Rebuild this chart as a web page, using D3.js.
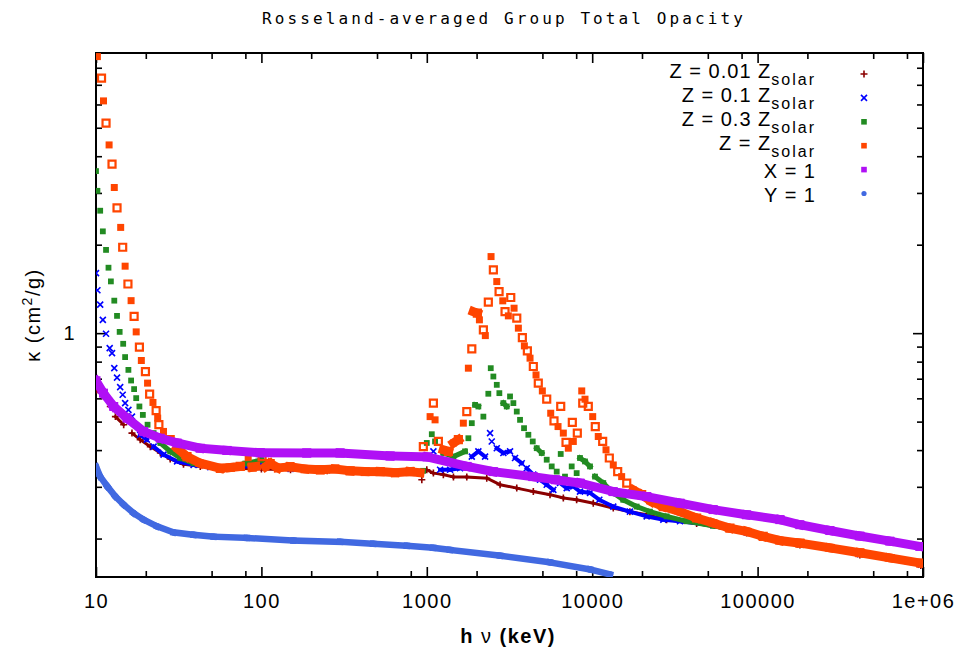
<!doctype html>
<html>
  <head>
    <script src="https://d3js.org/d3.v7.min.js"></script>
    <style>
      body { margin: 0; background: #fff; }
      text { font-family: "Liberation Sans", Arial, sans-serif; fill: #000; }
      .title { font-family: "DejaVu Sans Mono", monospace; font-size: 16px; letter-spacing: 3.1px; }
      .tick text { font-size: 20px; letter-spacing: 1.5px; }
      .tick line { stroke: #000; stroke-width: 1.6px; }
      .axislabel { font-size: 20px; letter-spacing: 1.5px; }
      .legend text { font-size: 20px; letter-spacing: 1px; }
    </style>
  </head>
  <body>
    <div id="chart">
      <script>
        // ---- data: [energy keV, kappa cm^2/g] ----
        var z001 = [[10.1,0.641],[11.1,0.609],[12.2,0.563],[13.1,0.520],[14.7,0.488],[16.5,0.457],[18.5,0.434],[21.3,0.411],
          [24.5,0.391],[28.1,0.373],[33.8,0.358],[42.7,0.352],[61.9,0.347],[100,0.345],[150,0.343],[250,0.340],[400,0.338],
          [600,0.336],[900,0.333],[933,0.317],[1000,0.343],[1096,0.334],[1259,0.330],[1449,0.324],[1745,0.324],[2304,0.321],
          [2773,0.305],[3499,0.297],[4406,0.289],[5559,0.282],[6690,0.275],[8054,0.271],[10150,0.264],[13410,0.254],
          [16900,0.247],[21340,0.241],[28180,0.232],[42800,0.225],[85800,0.209],[180200,0.190],[415000,0.176],[970000,0.162]];

        var z01 = [[10.0,1.60],[10.2,1.40],[10.6,1.25],[11.0,1.11],[11.5,0.995],[12.1,0.889],[12.5,0.855],[12.9,0.760],
          [13.4,0.706],[14.0,0.655],[14.5,0.617],[15.0,0.578],[15.7,0.548],[16.5,0.520],[18.5,0.451],[20.3,0.434],
          [22.3,0.411],[25.6,0.386],[30.9,0.366],[38.9,0.356],[49.1,0.350],[70,0.350],[100,0.355],[150,0.345],[250,0.342],
          [400,0.340],[600,0.338],[900,0.337],[1096,0.396],[1203,0.343],[1383,0.343],[1589,0.347],[1745,0.352],[1871,0.380],
          [2050,0.396],[2251,0.380],[2413,0.457],[2470,0.428],[2649,0.406],[2903,0.391],[3186,0.396],[3416,0.376],
          [3750,0.361],[4020,0.347],[4406,0.330],[4837,0.317],[5309,0.305],[5821,0.293],[6388,0.309],[7015,0.297],
          [7688,0.301],[8438,0.289],[9699,0.286],[11040,0.271],[13410,0.257],[16900,0.247],[21340,0.238],[26900,0.232],
          [33930,0.229],[53920,0.222],[85800,0.210],[180200,0.191],[415000,0.177],[970000,0.163]];

        var z03 = [[10.0,3.56],[10.2,3.05],[10.6,2.61],[11.0,2.22],[11.5,1.92],[11.9,1.67],[12.3,1.50],[12.9,1.29],
          [13.4,1.145],[13.9,1.01],[14.6,0.920],[15.0,0.829],[15.7,0.750],[16.3,0.690],[17.0,0.645],[17.5,0.601],
          [18.3,0.563],[19.2,0.527],[20.5,0.488],[22.3,0.457],[24.5,0.423],[28.1,0.396],[32.3,0.376],[38.9,0.361],
          [49.1,0.352],[60,0.348],[80,0.360],[100,0.370],[130,0.350],[200,0.345],[300,0.342],[500,0.338],[800,0.336],
          [950,0.340],[1000,0.423],[1072,0.453],[1122,0.428],[1259,0.391],[1449,0.380],[1703,0.396],[1784,0.439],
          [1871,0.494],[1958,0.570],[2050,0.563],[2198,0.520],[2355,0.622],[2436,0.760],[2526,0.712],[2649,0.667],
          [2746,0.625],[2903,0.578],[3043,0.563],[3186,0.609],[3337,0.578],[3499,0.541],[3662,0.507],[3872,0.475],
          [4112,0.451],[4371,0.428],[4620,0.406],[4954,0.391],[5309,0.371],[5691,0.352],[6101,0.338],[6452,0.388],
          [6847,0.325],[7517,0.352],[8054,0.334],[8438,0.376],[9047,0.366],[9699,0.352],[10400,0.325],[11670,0.309],
          [13410,0.286],[15410,0.271],[18580,0.257],[22340,0.247],[28180,0.238],[37240,0.229],[53920,0.221],
          [85800,0.211],[180200,0.192],[415000,0.178],[970000,0.164]];

        var zsol = [[10.2,8.73],[10.8,7.37],[11.1,6.17],[11.5,5.18],[12.0,4.37],[12.5,3.76],[12.9,3.13],[13.4,2.67],
          [14.1,2.29],[14.5,1.96],[15.0,1.69],[15.6,1.47],[16.3,1.29],[17.0,1.14],[17.5,1.01],[18.3,0.896],[18.8,0.807],
          [19.9,0.740],[20.5,0.676],[21.1,0.620],[22.1,0.581],[23.1,0.545],[23.6,0.514],[24.0,0.488],[25.6,0.463],
          [28.1,0.434],[30.9,0.406],[35.5,0.380],[42.7,0.361],[56.4,0.347],[64.8,0.349],[74.5,0.352],[83.2,0.377],
          [88.0,0.350],[93.0,0.352],[101,0.380],[106,0.351],[113,0.360],[126,0.348],[149,0.351],[184,0.345],[227,0.343],
          [279,0.345],[344,0.340],[424,0.338],[522,0.338],[643,0.335],[793,0.338],[910,0.335],[953,0.411],[1047,0.520],
          [1096,0.578],[1122,0.507],[1175,0.428],[1259,0.401],[1352,0.396],[1449,0.423],[1552,0.434],[1663,0.494],
          [1745,0.541],[1784,0.760],[1871,0.884],[1912,1.184],[2022,1.170],[2080,1.110],[2198,1.026],[2259,0.981],
          [2355,1.275],[2446,1.822],[2526,1.642],[2649,1.498],[2735,1.385],[2879,1.288],[2972,1.184],[3112,1.145],
          [3218,1.322],[3370,1.216],[3499,1.125],[3578,1.040],[3782,0.966],[3890,0.905],[4055,0.871],[4209,0.822],
          [4406,0.770],[4575,0.721],[4721,0.676],[4995,0.636],[5309,0.596],[5612,0.534],[5875,0.503],[6215,0.481],
          [6452,0.563],[6690,0.457],[6946,0.425],[7172,0.406],[7582,0.497],[7688,0.428],[8128,0.457],[8645,0.636],
          [8766,0.578],[9047,0.596],[9472,0.563],[10070,0.520],[10440,0.481],[10880,0.445],[11570,0.428],[12120,0.401],
          [12690,0.376],[13410,0.356],[14260,0.338],[15070,0.325],[16170,0.309],[17700,0.293],[19910,0.282],
          [22880,0.267],[26900,0.257],[33930,0.247],[42800,0.235],[53920,0.226],[68020,0.217],[85800,0.2115],
          [108100,0.2034],[136400,0.197],[180200,0.193],[273500,0.186],[415000,0.179],[629500,0.172],[970000,0.165]];

        var x1 = [[10.0,0.689],[11.1,0.625],[12.8,0.563],[15.4,0.514],[19.4,0.463],[24.5,0.439],[30.9,0.423],[42.7,0.406],
          [61.9,0.399],[98.3,0.392],[188,0.391],[299,0.391],[600,0.382],[1004,0.379],[1752,0.352],[2526,0.338],
          [4387,0.325],[6000,0.317],[8433,0.309],[13410,0.289],[21340,0.278],[33930,0.264],[53920,0.251],[85800,0.241],
          [136400,0.232],[180200,0.223],[273500,0.213],[415000,0.204],[629500,0.196],[957000,0.188]];

        var y1 = [[10.0,0.352],[10.6,0.325],[11.7,0.301],[13.1,0.278],[14.7,0.261],[16.9,0.244],[19.4,0.232],[23.4,0.220],
          [29.4,0.210],[38.9,0.206],[51.4,0.203],[81.7,0.201],[156,0.197],[299,0.195],[474,0.192],[757,0.189],
          [1092,0.186],[1383,0.183],[2773,0.175],[5559,0.166],[9700,0.157],[12820,0.151]];

        var legendMain = ["Z = 0.01 Z", "Z = 0.1 Z", "Z = 0.3 Z", "Z = Z", "X = 1", "Y = 1"];
        var legendSub = ["solar", "solar", "solar", "solar", "", ""];

        var xMajor = [10, 100, 1000, 1e4, 1e5, 1e6];
        var xTickLabels = ["10", "100", "1000", "10000", "100000", "1e+06"];
        var xMinor = [20, 50, 80, 200, 500, 800, 2000, 5000, 8000, 2e4, 5e4, 8e4, 2e5, 5e5, 8e5];
        var yMajor = [1];
        var yTickLabels = ["1"];
        var yMinor = [0.2, 0.3, 0.4, 0.5, 0.6, 0.7, 0.8, 0.9, 2, 3, 4, 5, 6, 7, 8];

        var title = "Rosseland-averaged Group Total Opacity";

        // ---- layout ----
        var width = 966, height = 654;
        var pLeft = 96, pRight = 923, pTop = 53, pBottom = 577;

        var x = d3.scaleLog().domain([10, 1e6]).range([pLeft, pRight]);
        var y = d3.scaleLog().domain([0.148, 8.98]).range([pBottom, pTop]);

        var svg = d3.select("#chart").append("svg")
          .attr("width", width)
          .attr("height", height);

        svg.append("defs").append("clipPath").attr("id", "plot")
          .append("rect")
          .attr("x", pLeft).attr("y", pTop)
          .attr("width", pRight - pLeft).attr("height", pBottom - pTop);

        svg.append("text")
          .attr("class", "title")
          .attr("x", 504).attr("y", 24)
          .attr("text-anchor", "middle")
          .text(title);

        // axes, ticks pointing inward like gnuplot
        function addAxis(axis, tx, ty) {
          var g = svg.append("g").attr("transform", "translate(" + tx + "," + ty + ")").call(axis);
          g.select(".domain").remove();
          return g;
        }
        addAxis(d3.axisBottom(x).tickValues(xMajor).tickSize(-10).tickPadding(17)
          .tickFormat(function(d, i) { return xTickLabels[i]; }), 0, pBottom);
        addAxis(d3.axisBottom(x).tickValues(xMinor).tickSize(-6).tickFormat(""), 0, pBottom);
        addAxis(d3.axisTop(x).tickValues(xMajor).tickSize(-10).tickFormat(""), 0, pTop);
        addAxis(d3.axisTop(x).tickValues(xMinor).tickSize(-6).tickFormat(""), 0, pTop);
        addAxis(d3.axisLeft(y).tickValues(yMajor).tickSize(-10).tickPadding(20)
          .tickFormat(function(d, i) { return yTickLabels[i]; }), pLeft, 0);
        addAxis(d3.axisLeft(y).tickValues(yMinor).tickSize(-6).tickFormat(""), pLeft, 0);
        addAxis(d3.axisRight(y).tickValues(yMajor).tickSize(-10).tickFormat(""), pRight, 0);
        addAxis(d3.axisRight(y).tickValues(yMinor).tickSize(-6).tickFormat(""), pRight, 0);

        svg.selectAll(".tick text").attr("font-family", null);

        svg.append("rect")
          .attr("x", pLeft).attr("y", pTop)
          .attr("width", pRight - pLeft).attr("height", pBottom - pTop)
          .attr("fill", "none").attr("stroke", "#000").attr("stroke-width", 2);

        // axis labels
        var xl = svg.append("text").attr("class", "axislabel")
          .attr("x", 508).attr("y", 643).attr("text-anchor", "middle");
        xl.append("tspan").attr("font-weight", "bold").text("h");
        xl.append("tspan").text(" \u03bd ");
        xl.append("tspan").attr("font-weight", "bold").text("(keV)");

        var yl = svg.append("text").attr("class", "axislabel")
          .attr("transform", "translate(40,315) rotate(-90)")
          .attr("text-anchor", "middle");
        yl.append("tspan").text("\u03ba (cm");
        yl.append("tspan").attr("font-size", "14px").attr("dy", -8).text("2");
        yl.append("tspan").attr("dy", 8).text("/g)");

        // ---- series ----
        function sq(s) { return "M" + (-s) + "," + (-s) + "H" + s + "V" + s + "H" + (-s) + "Z"; }
        var shapes = {
          plus: function() { return "M-3.5,0H3.5M0,-3.5V3.5"; },
          cross: function() { return "M-3,-3L3,3M-3,3L3,-3"; },
          square: function(s) { return sq(s); },
          circle: function(s) { return d3.symbol(d3.symbolCircle, Math.PI * s * s)(); }
        };

        var series = [
          { data: z001, color: "#8b0000", shape: "plus", size: 3.5, band: 3, joinAll: false },
          { data: z01, color: "#0000ff", shape: "cross", size: 3, band: 4, joinAll: false },
          { data: z03, color: "#228b22", shape: "square", size: 2.9, band: 5, joinAll: false },
          { data: zsol, color: "#ff4500", shape: "square", size: 3.5, band: 9, joinAll: false, mixOpen: true },
          { data: x1, color: "#b010f5", shape: "square", size: 4.5, band: 9, joinAll: true },
          { data: y1, color: "#4169e1", shape: "circle", size: 3.2, band: 6.5, joinAll: true }
        ];

        var plot = svg.append("g").attr("clip-path", "url(#plot)");

        series.forEach(function(s) {
          var g = plot.append("g");
          var segs = [];
          for (var i = 1; i < s.data.length; i++) {
            var p = s.data[i - 1], q = s.data[i];
            var dx = Math.abs(x(q[0]) - x(p[0])), dy = Math.abs(y(q[1]) - y(p[1]));
            if (dx < 70 && (s.joinAll || (dx < 62 && dy < dx))) segs.push([p, q]);
          }
          g.selectAll("line").data(segs).enter().append("line")
            .attr("x1", function(d) { return x(d[0][0]); })
            .attr("y1", function(d) { return y(d[0][1]); })
            .attr("x2", function(d) { return x(d[1][0]); })
            .attr("y2", function(d) { return y(d[1][1]); })
            .attr("stroke", s.color)
            .attr("stroke-width", s.band)
            .attr("stroke-linecap", "square");

          g.selectAll("path").data(s.data).enter().append("path")
            .attr("transform", function(d) { return "translate(" + x(d[0]) + "," + y(d[1]) + ")"; })
            .attr("d", shapes[s.shape](s.size))
            .each(function(d, i) {
              var el = d3.select(this);
              if (s.shape === "plus" || s.shape === "cross") {
                el.attr("fill", "none").attr("stroke", s.color).attr("stroke-width", 1.6);
              } else if (s.mixOpen && i % 2 === 1) {
                el.attr("fill", "none").attr("stroke", s.color).attr("stroke-width", 2.2);
              } else {
                el.attr("fill", s.color);
              }
            });
        });

        // ---- legend ----
        var legend = svg.append("g").attr("class", "legend");
        series.forEach(function(s, i) {
          var sy = 74 + i * 23.9;
          var hasSub = legendSub[i] !== "";
          var t = legend.append("text")
            .attr("x", 816).attr("y", sy + (hasSub ? 4 : 8))
            .attr("text-anchor", "end");
          t.append("tspan").text(legendMain[i]);
          if (hasSub) {
            t.append("tspan").attr("font-size", "16px").attr("letter-spacing", "2px")
              .attr("dy", 7).text(legendSub[i]);
          }
          var m = legend.append("path")
            .attr("transform", "translate(864," + sy + ")")
            .attr("d", shapes[s.shape](s.shape === "square" ? 2.8 : 2.6));
          if (s.shape === "plus" || s.shape === "cross") {
            m.attr("fill", "none").attr("stroke", s.color).attr("stroke-width", 1.6);
          } else {
            m.attr("fill", s.color);
          }
        });
      </script>
    </div>
  </body>
</html>
